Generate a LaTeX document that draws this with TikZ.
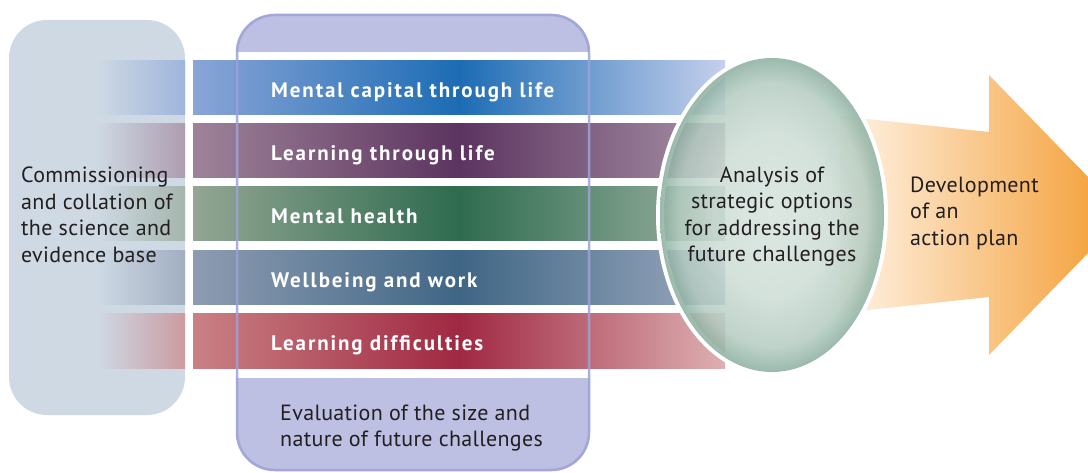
\documentclass[tikz,border=0pt]{standalone}
\usepackage{fontspec}
\setmainfont{PT Sans}
\definecolor{leftbox}{HTML}{CED9E4}
\definecolor{midbox}{HTML}{BDC0E2}
\definecolor{midborder}{HTML}{9EA3D8}
\definecolor{txt}{HTML}{231F20}
\definecolor{bAl}{HTML}{8AA5D7}\definecolor{bAm}{HTML}{1C6CB4}\definecolor{bAr}{HTML}{C5D0EC}
\definecolor{bBl}{HTML}{9E8399}\definecolor{bBm}{HTML}{5C3460}\definecolor{bBr}{HTML}{A892A6}
\definecolor{bCl}{HTML}{93A693}\definecolor{bCm}{HTML}{2E6B4F}\definecolor{bCr}{HTML}{9DB3A3}
\definecolor{bDl}{HTML}{8E9CB2}\definecolor{bDm}{HTML}{3F6685}\definecolor{bDr}{HTML}{9CA9BE}
\definecolor{bEl}{HTML}{C98184}\definecolor{bEm}{HTML}{A02842}\definecolor{bEr}{HTML}{DDB0B2}
\definecolor{ellin}{HTML}{D6E3DD}
\definecolor{ellout}{HTML}{8AAE9E}
\definecolor{arrowL}{HTML}{FFF4E8}
\definecolor{arrowR}{HTML}{F39A2C}
\pgfdeclareradialshading{ellshade}{\pgfpoint{0bp}{0bp}}{color(0bp)=(ellin); color(13bp)=(ellin!88!ellout); color(21bp)=(ellin!55!ellout); color(25bp)=(ellout); color(50bp)=(ellout)}
\tikzset{
  bodytext/.style={font=\fontsize{22}{26.5}\selectfont\addfontfeature{LetterSpace=1.5}, text=txt, inner sep=0pt},
  bandlabel/.style={font=\fontsize{21}{24}\selectfont\bfseries\addfontfeature{LetterSpace=9}, text=white, inner sep=0pt, anchor=base west},
}
\newcommand{\bandrow}[5]{%
  \shade[left color=leftbox, right color=#2!70!leftbox] (97,#1) rectangle (185,#1+54);
  \shade[left color=#2, right color=#4, middle color=#3] (193,#1) rectangle (725,#1+54);
  \coordinate (#5) at (271,#1+36.5);
}
\begin{document}
\begin{tikzpicture}[x=1pt,y=-1pt]
\useasboundingbox (0,0) rectangle (1088,473);
\clip (0,0) rectangle (1088,473);
% left box
\fill[leftbox, rounded corners=38pt] (9,20) rectangle (185,415);
% middle box fill
\fill[midbox, rounded corners=38pt] (236,14) rectangle (590,471);
% white strip behind bands
\fill[white] (189,52) rectangle (600,378);
% bands
\bandrow{61}{bAl}{bAm}{bAr}{lA}
\bandrow{124}{bBl}{bBm}{bBr}{lB}
\bandrow{187}{bCl}{bCm}{bCr}{lC}
\bandrow{251}{bDl}{bDm}{bDr}{lD}
\bandrow{314}{bEl}{bEm}{bEr}{lE}
% middle box border on top
\draw[midborder, line width=2.5pt, opacity=0.85, rounded corners=38pt] (237,15) rectangle (589,470);
% arrow
\shade[left color=arrowL, right color=arrowR]
  (840,116) -- (989,132) -- (989,75) -- (1125,215) -- (989,355) -- (989,297) -- (840,313) -- cycle;
% ellipse
\draw[white, line width=8pt] (772,215) ellipse [x radius=112, y radius=157];
\shade[shading=ellshade, fill opacity=0.85] (772,215) ellipse [x radius=112, y radius=157];
\node (ell) at (772,215) {};
% labels
\node[bandlabel] (tA) at (lA) {Mental capital through life};
\node[bandlabel] (tB) at (lB) {Learning through life};
\node[bandlabel] (tC) at (lC) {Mental health};
\node[bandlabel] (tD) at (lD) {Wellbeing and work};
\node[bandlabel] (tE) at (lE) {Learning difficulties};
\node[bodytext, align=left, anchor=west] (comm) at (21,215)
  {Commissioning\\and collation of\\the science and\\evidence base};
\node[bodytext, align=center] (anal) at (772,216.5)
  {Analysis of\\strategic options\\for addressing the\\future challenges};
\node[bodytext, align=left, anchor=west] (dev) at (910,213)
  {Development\\of an\\action plan};
\node[bodytext, align=left, anchor=west] (eval) at (280,428)
  {Evaluation of the size and\\nature of future challenges};
\end{tikzpicture}
\end{document}
